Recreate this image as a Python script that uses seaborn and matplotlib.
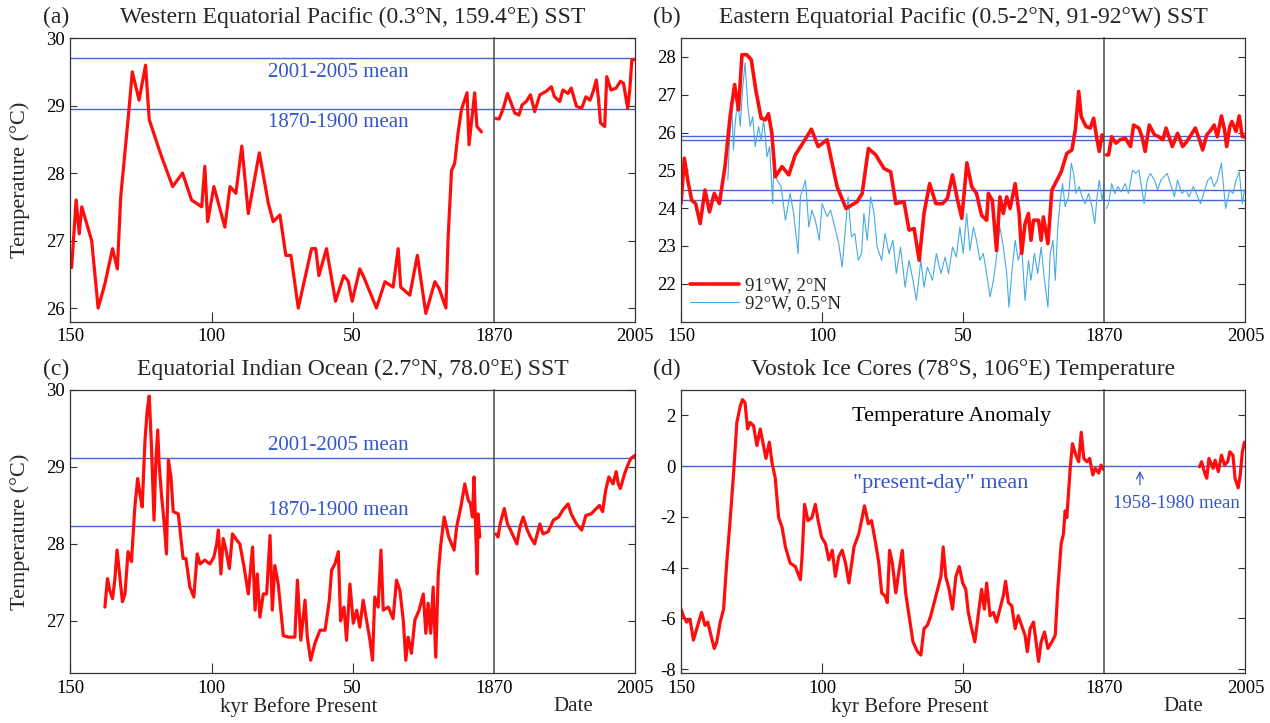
import numpy as np
import pandas as pd
import matplotlib.pyplot as plt
import seaborn as sns

# ---- (a) Western Equatorial Pacific ----
a_kyr = [149.6, 148.0, 146.9, 146.0, 142.5, 140.2, 137.8, 135.1, 133.4, 132.2,
         129.5, 128.1, 125.7, 123.4, 122.1, 117.7, 113.8, 110.3, 107.1, 103.5,
         102.4, 101.4, 99.2, 95.3, 93.5, 91.4, 89.3, 87.0, 83.1, 79.9,
         78.2, 75.8, 73.7, 71.9, 69.3, 64.6, 63.1, 62.0, 59.3, 56.1,
         53.2, 51.6, 50.2, 47.5, 46.1, 41.6, 38.6, 35.7, 33.9, 33.0,
         29.8, 27.1, 24.1, 20.9, 19.4, 17.0, 16.2, 15.0, 13.9, 12.7,
         11.5, 9.5, 8.8, 6.8, 6.0, 4.4]
a_sst = [26.6, 27.6, 27.1, 27.5, 27.0, 26.0, 26.36, 26.88, 26.58, 27.65,
         28.84, 29.5, 29.08, 29.6, 28.79, 28.24, 27.8, 28.0, 27.6, 27.5,
         28.1, 27.28, 27.8, 27.2, 27.8, 27.7, 28.4, 27.4, 28.3, 27.55,
         27.28, 27.38, 26.78, 26.78, 26.0, 26.88, 26.88, 26.48, 26.88, 26.1,
         26.48, 26.4, 26.1, 26.58, 26.46, 26.0, 26.39, 26.31, 26.88, 26.31,
         26.19, 26.78, 25.92, 26.39, 26.29, 26.0, 27.05, 28.04, 28.14, 28.59,
         28.94, 29.19, 28.42, 29.19, 28.69, 28.61]
a_year = [1872, 1875, 1879, 1883, 1886, 1890, 1894, 1897, 1901, 1905,
          1909, 1914, 1920, 1925, 1928, 1933, 1936, 1941, 1944, 1949,
          1954, 1958, 1962, 1965, 1968, 1970, 1972, 1976, 1978, 1982,
          1987, 1991, 1994, 1998, 2000, 2002, 2004]
a_recent = [28.81, 28.8, 28.96, 29.18, 29.06, 28.89, 28.86, 29.01, 29.06, 29.16,
            28.91, 29.16, 29.21, 29.28, 29.13, 29.06, 29.23, 29.18, 29.26, 28.99,
            28.96, 29.13, 29.08, 29.21, 29.38, 29.11, 28.74, 28.69, 29.43, 29.23,
            29.26, 29.36, 29.33, 28.96, 29.23, 29.68, 29.68]
a_means = [29.7, 28.95]

# ---- (b) Eastern Equatorial Pacific ----
b_red_kyr = [150.0, 148.8, 147.6, 146.2, 144.8, 143.2, 141.5, 139.9, 138.2, 136.4,
             134.4, 132.6, 131.0, 129.6, 128.4, 126.7, 125.1, 123.5, 121.6, 120.1,
             119.0, 117.8, 116.6, 114.2, 111.8, 109.5, 106.5, 103.8, 101.4, 98.2,
             94.7, 91.5, 87.6, 85.8, 83.6, 81.0, 78.1, 75.7, 73.9, 71.0,
             69.2, 67.4, 65.6, 63.9, 61.9, 59.7, 57.3, 55.6, 53.8, 52.0,
             50.5, 48.7, 47.0, 45.3, 43.5, 41.7, 41.1, 39.7, 38.2, 37.0,
             35.8, 34.6, 33.4, 31.6, 30.2, 29.3, 28.1, 26.9, 26.0, 25.1,
             23.3, 22.4, 21.6, 20.0, 18.6, 16.8, 15.3, 13.3, 11.5, 10.3,
             9.1, 8.2, 6.5, 5.0, 3.8, 2.6, 1.8, 0.8, 0.2]
b_red_sst = [24.12, 25.32, 24.74, 24.21, 24.12, 23.59, 24.48, 23.9, 24.39, 24.12,
             25.1, 26.42, 27.27, 26.6, 28.06, 28.06, 27.93, 27.13, 26.38, 26.34,
             26.5, 25.98, 24.83, 25.1, 24.88, 25.41, 25.76, 26.09, 25.63, 25.81,
             24.57, 23.99, 24.17, 24.39, 25.58, 25.41, 25.05, 24.96, 24.12, 24.17,
             23.42, 23.46, 22.62, 23.86, 24.65, 24.12, 24.12, 24.26, 24.88, 24.21,
             23.73, 25.2, 24.57, 24.39, 23.81, 23.68, 24.39, 24.21, 22.88, 24.3,
             23.86, 24.3, 23.99, 24.65, 23.86, 22.8, 23.59, 23.86, 23.15, 23.68,
             23.68, 23.15, 23.77, 23.06, 24.48, 24.74, 24.96, 25.45, 25.54, 26.07,
             27.09, 26.42, 26.16, 26.12, 26.38, 25.81, 25.5, 25.94, 25.8]
b_blue_kyr = [133.4, 132.8, 132.0, 131.4, 130.8, 129.9, 129.0, 128.1, 127.3, 126.3,
              125.5, 124.6, 123.7, 122.5, 121.6, 120.7, 119.5, 118.6, 117.5, 117.0,
              116.0, 114.5, 113.0, 111.3, 110.1, 108.5, 107.7, 105.9, 104.7, 103.6,
              102.4, 101.0, 100.0, 98.2, 97.0, 95.5, 94.1, 92.9, 91.7, 90.8,
              89.6, 88.4, 87.2, 86.0, 85.2, 84.0, 82.8, 81.6, 80.5, 78.9,
              77.7, 76.3, 74.9, 73.7, 72.2, 70.6, 69.2, 67.8, 66.6, 65.0,
              63.9, 62.7, 60.9, 59.5, 57.9, 56.4, 55.2, 53.8, 52.4, 51.2,
              50.0, 48.8, 47.6, 46.4, 45.3, 44.1, 42.9, 41.7, 40.5, 39.3,
              38.2, 37.0, 35.8, 34.6, 33.8, 32.8, 31.6, 30.5, 29.3, 28.1,
              26.9, 26.0, 24.8, 23.6, 22.4, 21.2, 20.0, 19.2, 18.2, 17.4,
              16.5, 15.6, 14.8, 13.9, 12.7, 11.7, 10.9, 10.1, 8.9, 7.9,
              6.8, 5.6, 4.4, 3.4, 2.6, 1.8, 0.8, 0.1]
b_blue_sst = [24.74, 25.8, 26.69, 25.54, 26.25, 26.87, 26.16, 27.22, 27.84, 26.69,
              26.16, 26.42, 25.63, 26.16, 25.8, 26.34, 25.36, 25.63, 24.12, 25.45,
              24.74, 24.57, 23.68, 24.39, 23.86, 22.8, 24.3, 24.74, 23.5, 23.95,
              23.68, 23.15, 24.12, 23.77, 23.95, 23.5, 23.06, 22.44, 23.5, 24.3,
              23.24, 23.33, 22.62, 22.8, 23.86, 23.15, 24.3, 23.86, 22.97, 22.62,
              23.33, 22.8, 23.15, 22.27, 22.97, 21.91, 22.62, 22.09, 21.56, 22.62,
              21.91, 22.44, 22.09, 22.8, 22.27, 22.71, 22.27, 22.97, 22.71, 23.5,
              22.8, 23.86, 22.88, 23.5, 23.15, 22.62, 22.8, 22.27, 21.65, 22.09,
              22.71, 23.5, 22.97, 22.27, 21.38, 22.27, 23.15, 22.62, 22.97, 21.56,
              22.62, 22.09, 22.8, 22.27, 22.97, 22.09, 21.38, 22.8, 23.15, 22.09,
              23.5, 24.21, 24.65, 24.04, 24.3, 25.19, 24.92, 24.39, 24.57, 24.3,
              24.12, 24.39, 24.04, 23.59, 24.3, 24.74, 24.21, 24.57]
b_red_year = [1872, 1874, 1877, 1881, 1885, 1890, 1895, 1898, 1903, 1906,
              1909, 1913, 1918, 1922, 1926, 1929, 1935, 1940, 1945, 1950,
              1957, 1961, 1964, 1968, 1972, 1975, 1978, 1982, 1985, 1987,
              1990, 1992, 1996, 1999, 2002, 2004]
b_red_recent = [25.41, 25.41, 25.89, 25.72, 25.81, 25.85, 25.63, 26.2, 26.12, 25.89,
                25.5, 26.2, 25.94, 25.89, 25.81, 26.12, 25.63, 25.98, 25.63, 25.81,
                26.12, 25.81, 25.54, 25.94, 26.07, 26.2, 25.89, 26.44, 26.07, 25.63,
                26.16, 26.29, 26.03, 26.44, 25.89, 25.89]
b_blue_year = [1872, 1874, 1877, 1880, 1883, 1886, 1890, 1893, 1897, 1900,
               1903, 1906, 1908, 1911, 1914, 1918, 1921, 1924, 1927, 1930,
               1934, 1937, 1940, 1944, 1948, 1951, 1955, 1958, 1962, 1966,
               1969, 1972, 1975, 1978, 1982, 1984, 1986, 1990, 1993, 1996,
               1999, 2002, 2004]
b_blue_recent = [23.99, 24.12, 24.65, 24.39, 24.57, 24.43, 24.65, 24.39, 25.01, 24.92,
                 25.01, 24.48, 24.12, 24.74, 24.92, 24.74, 24.48, 24.74, 24.83, 24.92,
                 24.57, 24.3, 24.74, 24.39, 24.48, 24.3, 24.57, 24.39, 24.12, 24.48,
                 24.74, 24.83, 24.57, 24.74, 25.19, 24.57, 23.99, 24.48, 24.39, 24.74,
                 24.96, 24.12, 24.48]
b_means = [25.92, 25.8, 24.48, 24.22]

# ---- (c) Equatorial Indian Ocean ----
c_kyr = [137.8, 136.9, 136.1, 135.1, 134.3, 133.5, 132.5, 131.6, 130.7, 129.6,
         128.4, 127.2, 126.2, 125.4, 124.6, 123.6, 122.8, 122.1, 121.3, 120.4,
         119.8, 119.1, 118.6, 117.7, 116.9, 116.0, 115.3, 114.4, 113.6, 111.8,
         110.1, 109.1, 107.7, 106.3, 105.1, 104.1, 102.4, 100.6, 99.2, 98.2,
         97.6, 96.7, 95.9, 94.9, 93.7, 92.6, 91.1, 90.0, 88.5, 87.0,
         85.5, 84.6, 83.8, 82.9, 81.7, 80.5, 79.3, 78.5, 77.6, 76.4,
         74.6, 72.8, 70.5, 69.6, 68.4, 66.9, 66.1, 64.9, 63.4, 61.6,
         59.8, 58.3, 57.5, 56.3, 55.1, 54.3, 53.1, 52.2, 51.0, 49.8,
         48.6, 47.5, 46.3, 45.1, 43.9, 43.0, 42.2, 41.0, 40.0, 39.2,
         37.4, 35.7, 34.5, 33.3, 32.1, 31.2, 30.4, 29.2, 28.0, 26.5,
         25.0, 24.1, 23.3, 22.4, 21.5, 20.6, 19.7, 18.9, 17.6, 16.0,
         14.1, 13.2, 11.7, 10.3, 9.1, 8.3, 7.6, 7.0, 6.4, 5.9,
         5.6, 5.0]
c_sst = [27.18, 27.55, 27.4, 27.29, 27.53, 27.92, 27.57, 27.25, 27.35, 27.9,
         27.77, 28.48, 28.85, 28.65, 28.48, 29.35, 29.74, 29.92, 29.26, 28.31,
         29.04, 29.48, 29.04, 28.61, 28.31, 27.87, 29.09, 28.87, 28.42, 28.39,
         27.81, 27.81, 27.44, 27.31, 27.87, 27.74, 27.79, 27.74, 27.83, 28.0,
         28.18, 27.61, 28.07, 27.92, 27.68, 28.13, 28.05, 28.0, 27.7, 27.35,
         27.96, 27.14, 27.61, 27.05, 27.35, 27.35, 28.11, 27.14, 27.72, 27.48,
         26.81, 26.79, 26.79, 27.53, 26.75, 27.27, 26.79, 26.49, 26.71, 26.88,
         26.88, 27.27, 27.66, 27.74, 27.9, 27.0, 27.18, 26.75, 27.48, 26.97,
         27.14, 26.92, 27.27, 27.01, 26.75, 26.49, 27.31, 27.18, 27.92, 27.14,
         27.18, 27.03, 27.53, 27.4, 27.01, 26.49, 26.79, 26.58, 27.01, 27.14,
         27.35, 26.84, 27.23, 26.84, 27.44, 26.53, 27.61, 27.96, 28.35, 28.09,
         27.92, 28.22, 28.48, 28.78, 28.57, 28.52, 28.35, 28.87, 28.13, 27.61,
         28.39, 28.09]
c_year = [1872, 1874, 1876, 1880, 1883, 1886, 1889, 1892, 1895, 1898,
          1902, 1905, 1909, 1914, 1917, 1922, 1927, 1932, 1936, 1941,
          1944, 1949, 1954, 1958, 1963, 1968, 1971, 1974, 1977, 1980,
          1984, 1987, 1989, 1991, 1995, 1998, 2001, 2003, 2005]
c_recent = [28.13, 28.09, 28.26, 28.46, 28.26, 28.18, 28.09, 28.0, 28.22, 28.35,
            28.18, 28.09, 28.0, 28.26, 28.13, 28.16, 28.31, 28.35, 28.44, 28.52,
            28.39, 28.26, 28.18, 28.37, 28.39, 28.46, 28.5, 28.42, 28.7, 28.87,
            28.78, 28.94, 28.78, 28.72, 28.91, 29.02, 29.11, 29.13, 29.15]
c_means = [29.12, 28.23]

# ---- (d) Vostok ice core ----
d_kyr = [150.0, 149.2, 148.0, 146.8, 145.6, 144.4, 142.7, 141.5, 140.5, 139.1,
         138.2, 137.3, 136.1, 134.9, 133.8, 132.6, 131.4, 130.2, 129.0, 128.2,
         127.3, 126.4, 125.5, 124.3, 123.1, 121.9, 121.0, 119.9, 118.7, 117.8,
         116.6, 115.4, 114.2, 113.0, 111.3, 109.5, 107.7, 107.1, 106.2, 105.0,
         103.6, 102.4, 101.4, 100.2, 98.8, 97.6, 96.4, 95.3, 94.1, 92.9,
         91.7, 90.5, 88.7, 87.0, 85.8, 85.0, 83.6, 82.5, 81.0, 79.9,
         78.9, 77.7, 76.9, 76.1, 75.1, 73.9, 72.7, 71.6, 70.4, 69.2,
         67.8, 66.2, 65.0, 63.9, 62.7, 61.5, 60.3, 59.1, 57.9, 57.1,
         56.2, 55.0, 53.8, 52.6, 51.4, 50.2, 49.1, 48.2, 47.0, 45.9,
         44.7, 43.5, 42.5, 41.7, 40.5, 39.3, 38.2, 37.0, 35.8, 35.0,
         34.0, 32.8, 31.6, 30.5, 29.3, 28.1, 27.3, 26.3, 25.1, 24.2,
         23.3, 22.4, 21.2, 20.0, 18.6, 17.4, 16.5, 15.3, 14.5, 13.9,
         13.3, 12.1, 11.3, 10.1, 9.1, 8.2, 7.3, 6.2, 5.2, 4.1,
         3.2, 2.0, 1.2, 0.2]
d_anom = [-5.64, -5.9, -6.15, -6.03, -6.86, -6.41, -5.77, -6.28, -6.15, -6.8,
          -7.19, -6.93, -6.15, -5.64, -3.83, -2.15, -0.35, 1.72, 2.36, 2.62,
          2.49, 1.46, 1.72, 1.59, 0.81, 1.46, 0.94, 0.3, 0.94, 0.17,
          -0.48, -2.03, -2.41, -3.19, -3.83, -3.96, -4.48, -3.57, -1.51, -2.15,
          -2.03, -1.51, -2.15, -2.8, -3.06, -3.7, -3.32, -4.35, -3.57, -3.32,
          -3.83, -4.61, -3.19, -2.67, -2.03, -1.57, -2.28, -2.15, -3.06, -3.83,
          -5.0, -5.12, -5.38, -3.32, -3.83, -5.0, -4.09, -3.32, -5.0, -5.9,
          -6.93, -7.32, -7.45, -6.41, -6.28, -5.9, -5.38, -4.86, -4.35, -3.19,
          -4.35, -4.86, -5.64, -4.35, -3.96, -4.61, -4.86, -5.77, -6.41, -6.93,
          -5.9, -4.86, -5.64, -4.61, -5.9, -5.77, -6.15, -5.64, -5.12, -4.54,
          -5.38, -5.51, -6.41, -5.9, -6.28, -6.67, -7.32, -6.41, -6.15, -6.93,
          -7.7, -6.93, -6.54, -7.19, -6.93, -6.67, -4.86, -3.06, -2.67, -1.77,
          -2.03, -0.09, 0.88, 0.43, 0.17, 1.33, 0.3, 0.17, 0.3, -0.35,
          -0.09, -0.28, 0.04, -0.15]
d_year = [1961, 1963, 1966, 1968, 1970, 1974, 1976, 1979, 1982, 1985,
          1988, 1990, 1993, 1995, 1998, 2000, 2002, 2004]
d_recent = [-0.03, 0.17, -0.28, -0.48, 0.3, -0.09, 0.23, -0.22, 0.43, 0.04,
            0.17, 0.56, 0.43, -0.48, -0.86, -0.35, 0.56, 0.94]

RED = "#ff0d0d"
LINE_BLUE = "#4565d0"
TEXT_BLUE = "#3355cc"
LIGHT_BLUE = "#45aae6"
FRAME = "#333333"

sns.set_theme(style="white")
plt.rcParams['font.family'] = ['Liberation Serif', 'DejaVu Serif']
plt.rcParams['axes.unicode_minus'] = False

fig = plt.figure(figsize=(12.7, 7.23), dpi=100)

W, H = 0.4445, 0.392
OLD = 0.75


def make_panel(left, bottom, ylim, yticks, letter, title):
    ax_old = fig.add_axes([left, bottom, W * OLD, H])
    ax_new = fig.add_axes([left + W * OLD, bottom, W * (1 - OLD), H])
    for ax in (ax_old, ax_new):
        ax.set_ylim(*ylim)
        ax.set_facecolor("white")
        for sp in ax.spines.values():
            sp.set_color(FRAME)
            sp.set_linewidth(0.9)
    # the 1870 divider is the left frame of the recent-years axes
    ax_old.spines["right"].set_visible(False)
    ax_new.spines["left"].set_color("#4a4a4a")
    ax_new.spines["left"].set_linewidth(1.1)

    ax_old.set_xlim(150, 0)
    ax_old.set_xticks([150, 100, 50])
    ax_old.set_xticklabels(["150", "100", "50"])
    ax_old.set_yticks(yticks)
    ax_old.set_yticklabels([str(t) for t in yticks])
    ax_old.tick_params(axis="y", direction="in", length=5, width=0.8,
                       left=True, right=False, labelsize=13.5, pad=4, colors=FRAME)
    ax_old.tick_params(axis="x", direction="in", length=7, width=0.8,
                       bottom=True, top=False, labelsize=13.5, pad=5, colors=FRAME)

    ax_new.set_xlim(1870, 2005)
    ax_new.set_xticks([1870, 2005])
    ax_new.set_xticklabels(["1870", "2005"])
    ax_new.set_yticks(yticks)
    ax_new.tick_params(axis="y", direction="in", length=5, width=0.8,
                       left=False, right=True, labelleft=False, labelright=False,
                       colors=FRAME)
    ax_new.tick_params(axis="x", direction="in", length=0, labelsize=13.5,
                       pad=5, colors=FRAME)
    for lab in ax_old.get_xticklabels() + ax_old.get_yticklabels() + ax_new.get_xticklabels():
        lab.set_color("black")

    cx = left + W / 2
    ty = bottom + H + 0.028
    fig.text(cx, ty, title, ha="center", va="center", fontsize=17)
    fig.text(left - 0.022, ty, letter, ha="left", va="center", fontsize=17)
    return ax_old, ax_new


def red_line(ax, x, y, lw=2.3):
    sns.lineplot(x=x, y=y, ax=ax, color=RED, linewidth=lw, sort=False,
                 estimator=None, legend=False)


# (a)
axa, axa2 = make_panel(0.0555, 0.5553, (25.8, 30.0), [26, 27, 28, 29, 30], "(a)",
                       "Western Equatorial Pacific (0.3°N, 159.4°E) SST")
for m in a_means:
    axa.axhline(m, color=LINE_BLUE, lw=1.0)
    axa2.axhline(m, color=LINE_BLUE, lw=1.0)
red_line(axa, a_kyr, a_sst)
red_line(axa2, a_year, a_recent)
axa.text(55, 29.49, "2001-2005 mean", color=TEXT_BLUE, fontsize=15, ha="center", va="center")
axa.text(55, 28.75, "1870-1900 mean", color=TEXT_BLUE, fontsize=15, ha="center", va="center")
axa.set_ylabel("Temperature (°C)", fontsize=16, labelpad=12)

# (b)
axb, axb2 = make_panel(0.5362, 0.5553, (21.0, 28.5), [22, 23, 24, 25, 26, 27, 28], "(b)",
                       "Eastern Equatorial Pacific (0.5-2°N, 91-92°W) SST")
for m in b_means:
    axb.axhline(m, color=LINE_BLUE, lw=1.0)
    axb2.axhline(m, color=LINE_BLUE, lw=1.0)
sns.lineplot(x=b_blue_kyr, y=b_blue_sst, ax=axb, color=LIGHT_BLUE, linewidth=0.8,
             sort=False, estimator=None, label="92°W, 0.5°N")
sns.lineplot(x=b_red_kyr, y=b_red_sst, ax=axb, color=RED, linewidth=2.6,
             sort=False, estimator=None, label="91°W, 2°N")
sns.lineplot(x=b_blue_year, y=b_blue_recent, ax=axb2, color=LIGHT_BLUE, linewidth=0.8,
             sort=False, estimator=None, legend=False)
red_line(axb2, b_red_year, b_red_recent, lw=2.6)
handles, labels = axb.get_legend_handles_labels()
axb.legend(handles[::-1], labels[::-1], loc="lower left", frameon=False, fontsize=13.5,
           handlelength=2.6, handletextpad=0.3, labelspacing=0.05,
           borderaxespad=0.2, borderpad=0.3)

# (c)
axc, axc2 = make_panel(0.0555, 0.0687, (26.32, 30.0), [27, 28, 29, 30], "(c)",
                       "Equatorial Indian Ocean (2.7°N, 78.0°E) SST")
for m in c_means:
    axc.axhline(m, color=LINE_BLUE, lw=1.0)
    axc2.axhline(m, color=LINE_BLUE, lw=1.0)
red_line(axc, c_kyr, c_sst)
red_line(axc2, c_year, c_recent)
axc.text(55, 29.28, "2001-2005 mean", color=TEXT_BLUE, fontsize=15, ha="center", va="center")
axc.text(55, 28.43, "1870-1900 mean", color=TEXT_BLUE, fontsize=15, ha="center", va="center")
axc.set_ylabel("Temperature (°C)", fontsize=16, labelpad=12)

# (d)
axd, axd2 = make_panel(0.5362, 0.0687, (-8.17, 3.0), [-8, -6, -4, -2, 0, 2], "(d)",
                       "Vostok Ice Cores (78°S, 106°E) Temperature")
axd.axhline(0, color=LINE_BLUE, lw=1.0)
axd2.axhline(0, color=LINE_BLUE, lw=1.0)
red_line(axd, d_kyr, d_anom)
red_line(axd2, d_year, d_recent)
axd.text(54, 1.97, "Temperature Anomaly", color="black", fontsize=16, ha="center", va="center")
axd.text(58, -0.67, '"present-day" mean', color=TEXT_BLUE, fontsize=16, ha="center", va="center")
axd2.annotate("", xy=(1904, -0.08), xytext=(1904, -0.85),
              arrowprops=dict(arrowstyle="->", color=TEXT_BLUE, lw=0.9))
axd2.text(1939, -1.48, "1958-1980 mean", color=TEXT_BLUE, fontsize=13.5, ha="center", va="center")

for ax_old, ax_new in ((axc, axc2), (axd, axd2)):
    ax_old.set_xlabel("kyr Before Present", fontsize=15)
    ax_new.set_xlabel("Date", fontsize=15)
    ax_old.xaxis.set_label_coords(0.54, -0.085)
    ax_new.xaxis.set_label_coords(0.56, -0.085)
    ax_old.xaxis.label.set_va("top")
    ax_new.xaxis.label.set_va("top")

for ax in (axa, axa2, axb, axb2, axc, axc2, axd, axd2):
    if ax not in (axc, axc2, axd, axd2):
        ax.set_xlabel("")
    if ax not in (axa, axc):
        ax.set_ylabel("")

fig.savefig("out.png", dpi=100)
